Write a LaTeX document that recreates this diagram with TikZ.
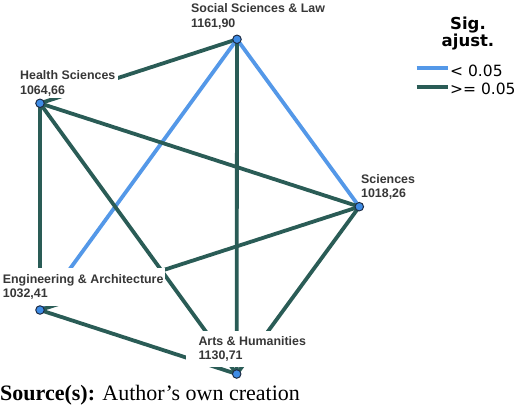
\documentclass[tikz,border=0pt]{standalone}
\usepackage{fontspec}
\setmainfont{Liberation Serif}
\newfontfamily\lblfont{Liberation Sans}
\newfontfamily\legfont{DejaVu Sans}
\pgfdeclarelayer{edges}
\pgfsetlayers{edges,main}
\definecolor{sigblue}{RGB}{84,152,232}
\definecolor{nsdark}{RGB}{42,92,86}
\definecolor{nodefill}{RGB}{62,140,230}
\definecolor{nodeedge}{RGB}{30,45,70}
\definecolor{lblgray}{RGB}{55,55,55}
\tikzset{
  lbl/.style={font=\lblfont\bfseries\fontsize{12.4}{14.6}\selectfont, text=lblgray,
    fill=white, align=left, anchor=north west, inner xsep=3pt, inner ysep=2pt},
  dot/.style={circle, fill=nodefill, draw=nodeedge, line width=1pt, minimum size=8.5pt, inner sep=0pt},
  sig/.style={draw=sigblue, line width=3.8pt},
  ns/.style={draw=nsdark, line width=3.8pt},
  legtxt/.style={font=\legfont\fontsize{15.5}{18}\selectfont, text=black, anchor=base west, inner sep=0pt},
}
\begin{document}
\begin{tikzpicture}[x=1pt,y=-1pt]
\useasboundingbox (0,0) rectangle (520,413);
% labels
\node[lbl] (sslL) at (188,1.3) {Social Sciences \& Law\\1161,90};
\node[lbl, inner ysep=1.5pt] (hsL) at (17,69.2) {Health Sciences\\1064,66};
\node[lbl] (sciL) at (358,172) {Sciences\\1018,26};
\node[lbl, inner xsep=2pt, inner ysep=6pt] (engL) at (0.7,268) {Engineering \& Architecture\\1032,41};
\node[lbl, inner xsep=13pt, inner ysep=5pt] (artsL) at (185.3,331) {Arts \& Humanities\\1130,71};
% nodes
\node[dot] (ssl) at (237,39.3) {};
\node[dot] (hs) at (40,103.3) {};
\node[dot] (sci) at (359.3,206.7) {};
\node[dot] (eng) at (40,310) {};
\node[dot] (arts) at (236.7,374) {};
% edges
\begin{pgfonlayer}{edges}
\draw[ns] (ssl.center) -- (hs.center);
\draw[sig] (ssl.center) -- (sci.center);
\draw[sig] (ssl.center) -- (eng.center);
\draw[ns] (ssl.center) -- (arts.center);
\draw[ns] (hs.center) -- (sci.center);
\draw[ns] (hs.center) -- (eng.center);
\draw[ns] (hs.center) -- (arts.center);
\draw[ns] (sci.center) -- (eng.center);
\draw[ns] (sci.center) -- (arts.center);
\draw[ns] (eng.center) -- (arts.center);
\end{pgfonlayer}
% legend
\node[font=\legfont\bfseries\fontsize{16.5}{17}\selectfont, align=center, anchor=north, inner sep=0pt] (legT) at (468,16.3) {Sig.\\ajust.};
\coordinate (l1a) at (416.7,68.3);
\coordinate (l1b) at (448.3,68.3);
\coordinate (l2a) at (416.7,87.3);
\coordinate (l2b) at (448.3,87.3);
\draw[sig] (l1a) -- (l1b);
\draw[ns] (l2a) -- (l2b);
\node[legtxt] (leg1) at (450,76.5) {< 0.05};
\node[legtxt] (leg2) at (450,94.5) {>= 0.05};
% source
\node[font=\fontsize{22}{26}\selectfont, anchor=base west, inner sep=0pt] (src) at (0,400) {\textbf{Source(s):} Author’s own creation};
\end{tikzpicture}
\end{document}
